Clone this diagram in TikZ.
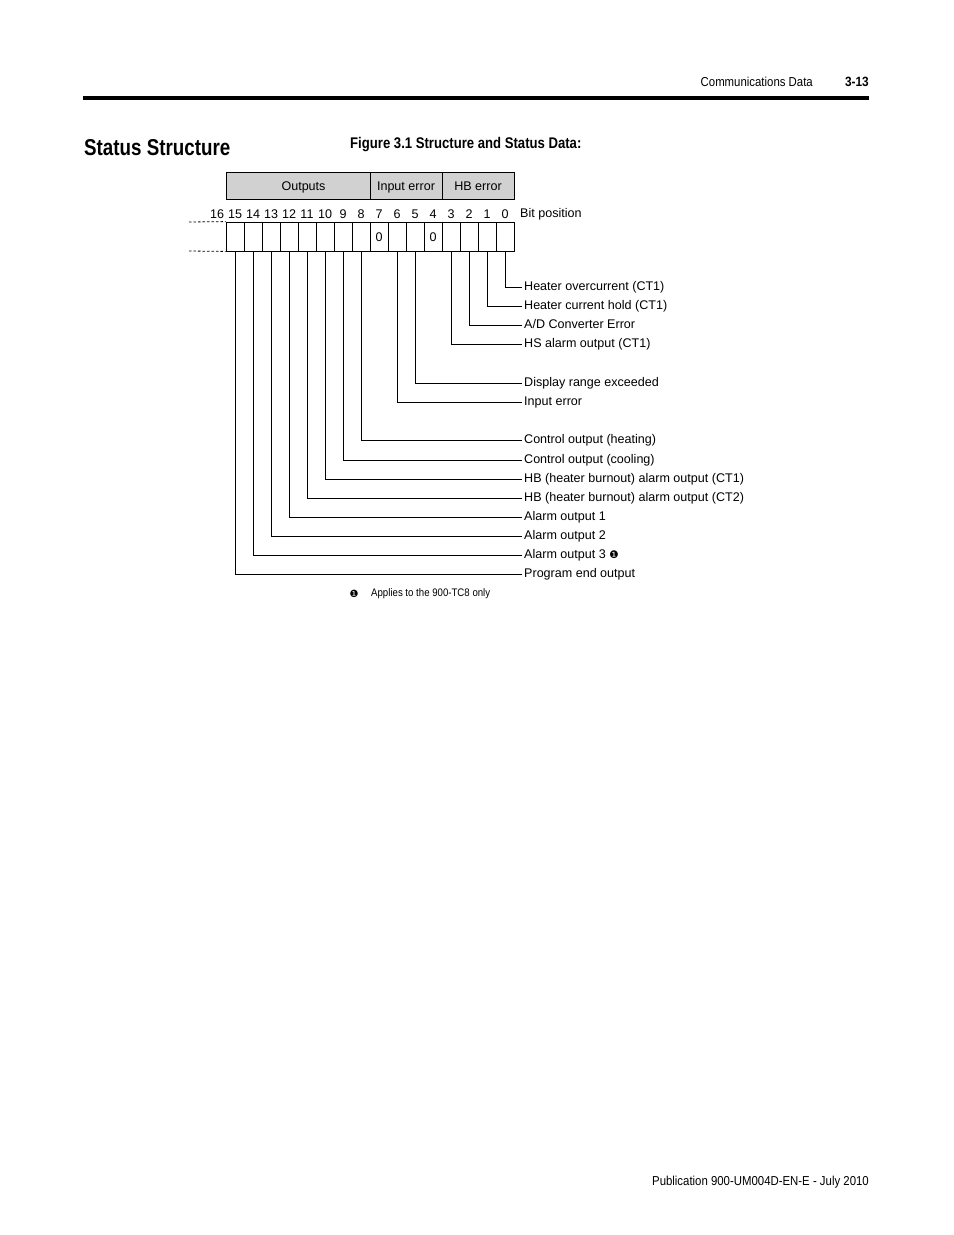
\documentclass[tikz,border=0pt]{standalone}
\usepackage{fontspec}
\setmainfont{Liberation Sans}
\newfontfamily\cond[FakeStretch=0.88]{Liberation Sans}
\newfontfamily\condt[FakeStretch=0.82]{Liberation Sans}
\newfontfamily\condc[FakeStretch=0.85]{Liberation Sans}
\newfontfamily\symf{DejaVu Sans}
\begin{document}
\begin{tikzpicture}[x=1bp,y=-1bp,
  txt/.style={font=\fontsize{12.6}{15}\selectfont, inner sep=0pt},
  hdr/.style={draw, fill=black!18, minimum height=27bp, inner sep=0pt, line width=0.8bp, text height=12bp, text depth=1.6bp, font=\fontsize{12.6}{15}\selectfont},
  cell/.style={draw, minimum width=18bp, minimum height=29bp, inner sep=0pt, line width=0.8bp, font=\fontsize{12.6}{15}\selectfont},
  lead/.style={line width=0.8bp},
  lbl/.style={anchor=west, font=\fontsize{12.6}{15}\selectfont, text height=9bp, text depth=3bp, inner ysep=0pt, inner xsep=2.5bp},
  dots/.style={line width=0.8bp, dash pattern=on 2.5bp off 2bp}
]
\useasboundingbox (0,0) rectangle (954,1235);
\fill[white] (0,0) rectangle (954,1235);

% page header
\node[anchor=east, inner sep=0pt, font=\cond\fontsize{13}{15}\selectfont] (hd) at (813,82) {Communications Data};
\node[anchor=east, inner sep=0pt, font=\cond\bfseries\fontsize{13.5}{15}\selectfont] (pg) at (869,82) {3-13};
\draw[line width=3.4bp] (83,98) -- (869,98);

% titles
\node[anchor=west, inner sep=0pt, font=\condt\bfseries\fontsize{23}{26}\selectfont] (title) at (84,147.5) {Status Structure};
\node[anchor=west, inner sep=0pt, font=\condc\bfseries\fontsize{15.5}{18}\selectfont] (cap) at (350,144.5) {Figure 3.1 Structure and Status Data:};

% header row
\node[hdr, minimum width=144bp] (hout) at (298,185.5) {\hspace*{11bp}Outputs};
\node[hdr, minimum width=72bp] (hin) at (406,185.5) {Input error};
\node[hdr, minimum width=72bp] (hhb) at (478,185.5) {HB error};

% bit numbers
\foreach \b in {0,...,16}
  \node[txt] (n\b) at ({235+(15-\b)*18},214) {\b};
\node[txt, anchor=west] (bp) at (520,214) {Bit position};

% cells
\foreach \b in {0,...,15}
  \node[cell] (c\b) at ({235+(15-\b)*18},236.5) {};
\node[txt] (z7) at ([yshift=-0.8bp]c7.center) {0};
\node[txt] (z4) at ([yshift=-0.8bp]c4.center) {0};
\draw[line width=1.8bp] (c4.north east) -- (c4.south east);

% dashed continuation
\coordinate (d1) at (189,222);
\coordinate (d2) at (189,251);
\draw[dots] (d1) -- (c15.north west);
\draw[dots] (d2) -- (c15.south west);

% labels
\node[lbl] (l0) at (521.5,287) {Heater overcurrent (CT1)};
\node[lbl] (l1) at (521.5,306) {Heater current hold (CT1)};
\node[lbl] (l2) at (521.5,325) {A/D Converter Error};
\node[lbl] (l3) at (521.5,344) {HS alarm output (CT1)};
\node[lbl] (l5) at (521.5,383) {Display range exceeded};
\node[lbl] (l6) at (521.5,402) {Input error};
\node[lbl] (l8) at (521.5,440.5) {Control output (heating)};
\node[lbl] (l9) at (521.5,460) {Control output (cooling)};
\node[lbl] (l10) at (521.5,479) {HB (heater burnout) alarm output (CT1)};
\node[lbl] (l11) at (521.5,498) {HB (heater burnout) alarm output (CT2)};
\node[lbl] (l12) at (521.5,517) {Alarm output 1};
\node[lbl] (l13) at (521.5,536) {Alarm output 2};
\node[lbl] (l14) at (521.5,555) {Alarm output 3 {\symf\fontsize{10.5}{10}\selectfont ❶}};
\node[lbl] (l15) at (521.5,574) {Program end output};

\foreach \b in {0,1,2,3,5,6,8,9,10,11,12,13,14,15}
  \draw[lead] (c\b.south) |- (l\b.west);

% footnote
\node[inner sep=0pt, font=\symf\fontsize{10}{10}\selectfont] (fnm) at (354,594) {❶};
\node[anchor=west, inner sep=0pt, font=\cond\fontsize{11}{13}\selectfont] (fn) at (371,594) {Applies to the 900-TC8 only};

% footer
\node[anchor=east, inner sep=0pt, font=\cond\fontsize{13}{15}\selectfont] (ft) at (869,1182) {Publication 900-UM004D-EN-E - July 2010};
\end{tikzpicture}
\end{document}
